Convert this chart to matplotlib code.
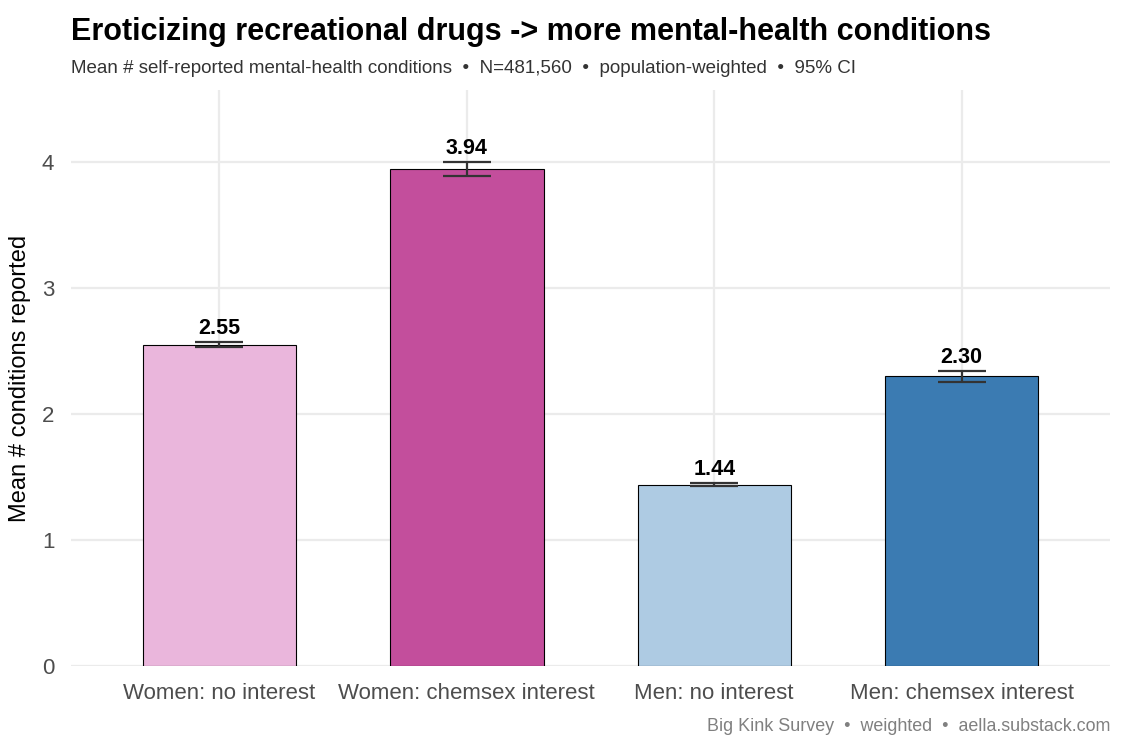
import matplotlib
matplotlib.use("Agg")
import matplotlib.pyplot as plt

groups = ["Women: no interest", "Women: chemsex interest",
          "Men: no interest", "Men: chemsex interest"]
means = [2.55, 3.94, 1.44, 2.30]
ci_low = [2.53, 3.885, 1.43, 2.25]
ci_high = [2.57, 4.0, 1.45, 2.34]
colors = ["#EAB6DC", "#C34E9C", "#AECBE3", "#3B7BB2"]

plt.rcParams["font.family"] = ["Liberation Sans", "DejaVu Sans"]

fig = plt.figure(figsize=(11.25, 7.5), dpi=100)
ax = fig.add_axes([0.0631, 0.112, 0.9236, 0.768])

x = range(len(groups))
ax.bar(x, means, width=0.62, color=colors, edgecolor="black", linewidth=0.8, zorder=2)

err_lo = [m - l for m, l in zip(means, ci_low)]
err_hi = [h - m for m, h in zip(means, ci_high)]
ax.errorbar(x, means, yerr=[err_lo, err_hi], fmt="none", ecolor="#333333",
            elinewidth=1.6, capsize=17.5, capthick=1.6, zorder=3)

for i, (m, h) in enumerate(zip(means, ci_high)):
    ax.annotate(f"{m:.2f}", (i, h), xytext=(0, 2), textcoords="offset points",
                ha="center", va="bottom", fontsize=15.5, fontweight="bold", zorder=4)

ax.set_xlim(-0.6, 3.6)
ax.set_ylim(0, 4.57)
ax.set_yticks([0, 1, 2, 3, 4])
ax.set_xticks(list(x))
ax.set_xticklabels(groups)
ax.tick_params(axis="both", length=0, labelsize=16, colors="#4D4D4D")
ax.tick_params(axis="x", pad=12)
ax.tick_params(axis="y", pad=12)
ax.set_ylabel("Mean # conditions reported", fontsize=17, labelpad=8)
ax.grid(True, color="#EBEBEB", linewidth=1.6, zorder=0)
ax.set_axisbelow(True)
for s in ax.spines.values():
    s.set_visible(False)

fig.text(0.0631, 0.947, "Eroticizing recreational drugs -> more mental-health conditions",
         fontsize=22, fontweight="bold", ha="left", va="baseline")
fig.text(0.0631, 0.903, "Mean # self-reported mental-health conditions  \u2022  N=481,560  \u2022  population-weighted  \u2022  95% CI",
         fontsize=13.5, color="#333333", ha="left", va="baseline")
fig.text(0.9867, 0.025, "Big Kink Survey  \u2022  weighted  \u2022  aella.substack.com",
         fontsize=12.9, color="#808080", ha="right", va="baseline")

fig.savefig("out.png", dpi=100)
